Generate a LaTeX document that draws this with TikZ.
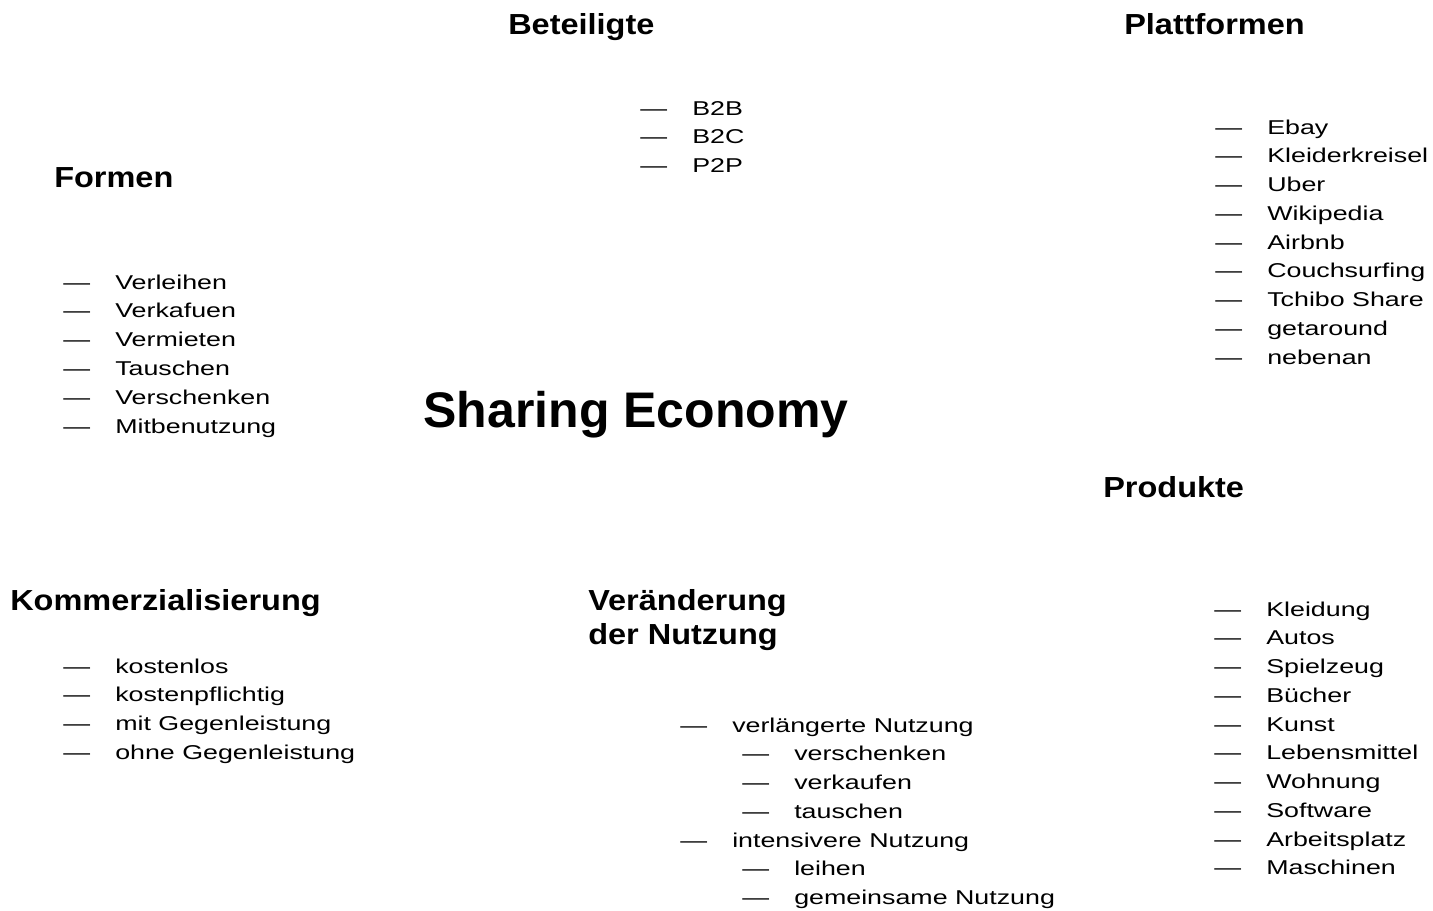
\documentclass[tikz,border=0pt]{standalone}
\usepackage{fontspec}
\setmainfont{Liberation Sans}
\newfontfamily\itemfont[FakeStretch=1.34]{Liberation Sans}
\newfontfamily\headfont[FakeStretch=1.12]{Liberation Sans}
\usetikzlibrary{positioning}
\newcommand{\listdash}[1]{\makebox[39pt][l]{\textemdash}#1}

\begin{document}
\begin{tikzpicture}[x=0.75pt,y=-0.75pt,
  heading/.style={anchor=base west, inner sep=0pt,
    font=\headfont\bfseries\fontsize{21.75}{26}\selectfont},
  entry/.style={anchor=base west, inner sep=0pt,
    font=\itemfont\fontsize{15}{18}\selectfont},
  title/.style={anchor=base, inner sep=0pt,
    font=\bfseries\fontsize{37.5}{45}\selectfont}]
\useasboundingbox (0,0) rectangle (1433,910);
% -- Centre --
\node[title] (economy) at (636,427) {Sharing Economy};
% -- Beteiligte --
\node[heading] (actors) at (508,34) {Beteiligte};
\foreach \t [count=\i from 0] in {B2B, B2C, P2P} {
  \node[entry] (actor\i) at (640,{115+28.5*\i}) {\listdash{\t}};
}
% -- Formen --
\node[heading] (forms) at (54,187) {Formen};
\foreach \t [count=\i from 0] in {Verleihen, Verkafuen, Vermieten,
  Tauschen, Verschenken, Mitbenutzung} {
  \node[entry] (form\i) at (63,{289+28.9*\i}) {\listdash{\t}};
}
% -- Plattformen --
\node[heading] (platforms) at (1124,34) {Plattformen};
\foreach \t [count=\i from 0] in {Ebay, Kleiderkreisel, Uber, Wikipedia,
  Airbnb, Couchsurfing, Tchibo Share, getaround, nebenan} {
  \node[entry] (platform\i) at (1215,{134+28.75*\i}) {\listdash{\t}};
}
% -- Produkte --
\node[heading] (products) at (1103,497) {Produkte};
\foreach \t [count=\i from 0] in {Kleidung, Autos, Spielzeug, Bücher,
  Kunst, Lebensmittel, Wohnung, Software, Arbeitsplatz, Maschinen} {
  \node[entry] (product\i) at (1214,{616+28.75*\i}) {\listdash{\t}};
}
% -- Kommerzialisierung --
\node[heading] (commerce) at (10,610) {Kommerzialisierung};
\foreach \t [count=\i from 0] in {kostenlos, kostenpflichtig,
  mit Gegenleistung, ohne Gegenleistung} {
  \node[entry] (commerce\i) at (63,{673+28.9*\i}) {\listdash{\t}};
}
% -- Veraenderung der Nutzung (two levels) --
\node[heading] (usage) at (588,610) {Veränderung};
\node[heading] (usage2) at (588,644) {der Nutzung};
\foreach \lx/\t [count=\i from 0] in {680/verlängerte Nutzung,
  742/verschenken, 742/verkaufen, 742/tauschen,
  680/intensivere Nutzung, 742/leihen, 742/gemeinsame Nutzung} {
  \node[entry] (use\i) at (\lx,{732+28.75*\i}) {\listdash{\t}};
}
\end{tikzpicture}
\end{document}
